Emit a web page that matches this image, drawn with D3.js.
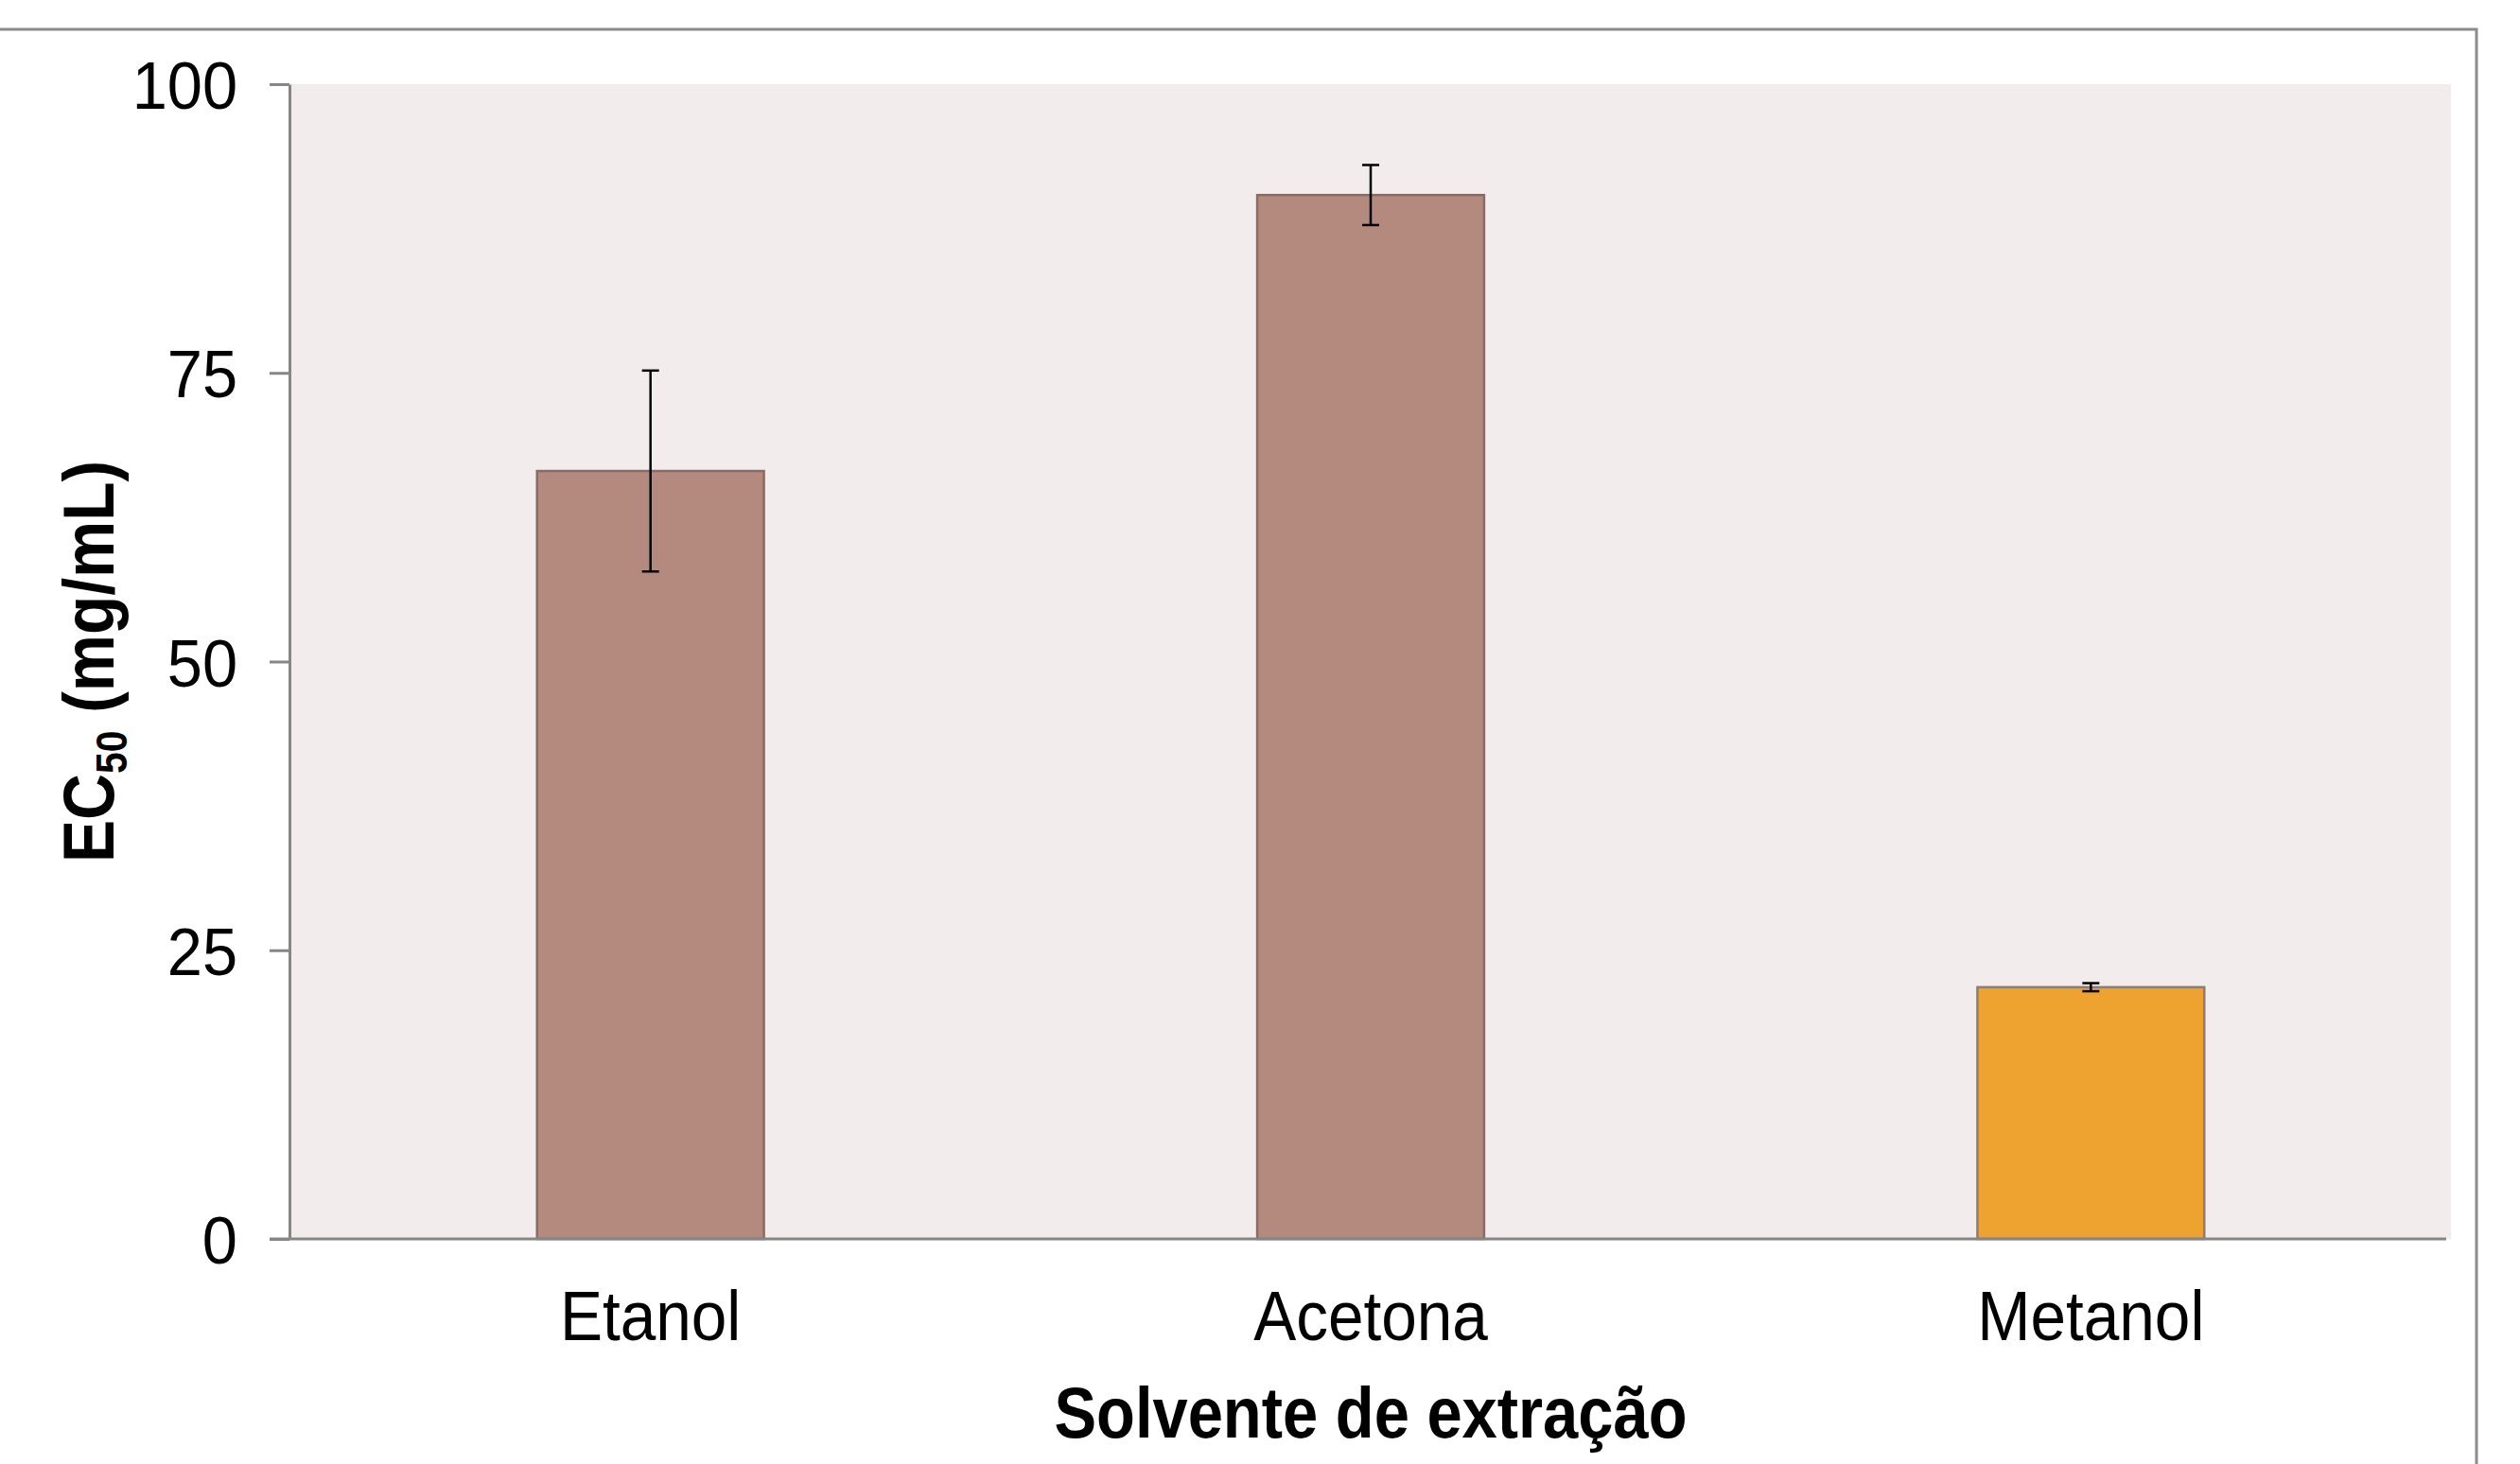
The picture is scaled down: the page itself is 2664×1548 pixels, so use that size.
<!DOCTYPE html>
<html>
<head>
<meta charset="utf-8">
<script src="https://cdn.jsdelivr.net/npm/d3@7"></script>
<style>
  html, body { margin: 0; padding: 0; background: #fff; }
  svg { display: block; }
  text { font-family: "Liberation Sans", Arial, sans-serif; fill: #000; }
</style>
</head>
<body>
<svg id="chart" width="2664" height="1548"></svg>
<script>
// data
let solvents = ["Etanol", "Acetona", "Metanol"];
let ec50 = [66.5, 90.4, 21.8];
let ec50_err = [8.7, 2.6, 0.35];
let bar_colors = ["#b58a7e", "#b58a7e", "#eea230"];
let bar_strokes = ["#8a6a63", "#8a6a63", "#8c7c72"];
let y_ticks = [0, 25, 50, 75, 100];

let margin = ({top: 89, right: 73, bottom: 238, left: 307});
let width = 2664, height = 1548;

let svg = d3.select("#chart");

// squeeze text a bit, the original labels are narrow
function squeeze(sel, k) {
    sel.each(function() {
        let len = this.getComputedTextLength();
        d3.select(this).attr("textLength", len * k).attr("lengthAdjust", "spacingAndGlyphs");
    });
}

// outer chart frame (left/bottom edge off canvas)
svg.append("rect")
    .attr("x", -20).attr("y", 31)
    .attr("width", 2618 + 20).attr("height", height)
    .attr("fill", "none")
    .attr("stroke", "#8c8c8c")
    .attr("stroke-width", 3);

let x = d3.scaleBand()
    .domain(solvents)
    .range([margin.left, width - margin.right])
    .padding(0);
let y = d3.scaleLinear()
    .domain([0, 100])
    .range([height - margin.bottom, margin.top]);

let bar_w = x.bandwidth() * 0.315;

// plot background
svg.append("rect")
    .attr("x", margin.left).attr("y", y(100))
    .attr("width", width - margin.right - margin.left)
    .attr("height", y(0) - y(100))
    .attr("fill", "#f2ecec");

let data = solvents.map((s, i) => ({name: s, value: ec50[i], err: ec50_err[i], fill: bar_colors[i], stroke: bar_strokes[i]}));

svg.append("g")
    .selectAll("rect")
    .data(data)
    .join("rect")
    .attr("x", d => x(d.name) + x.bandwidth() / 2 - bar_w / 2)
    .attr("y", d => y(d.value))
    .attr("width", bar_w)
    .attr("height", d => y(0) - y(d.value))
    .attr("fill", d => d.fill)
    .attr("stroke", d => d.stroke)
    .attr("stroke-width", 2.5);

// error bars
let eb = svg.append("g").attr("stroke", "#000").attr("stroke-width", 2.5);
let cap = 9;
data.forEach(d => {
    let cx = x(d.name) + x.bandwidth() / 2;
    eb.append("line")
        .attr("x1", cx).attr("x2", cx)
        .attr("y1", y(d.value + d.err)).attr("y2", y(d.value - d.err));
    [d.value + d.err, d.value - d.err].forEach(v => {
        eb.append("line")
            .attr("x1", cx - cap).attr("x2", cx + cap)
            .attr("y1", y(v)).attr("y2", y(v));
    });
});

// y axis
let y_axis = g => g
    .attr("transform", `translate(${margin.left - 1}, 0)`)
    .call(d3.axisLeft(y).tickValues(y_ticks).tickSize(21).tickSizeOuter(0).tickPadding(34))
    .call(g => g.selectAll("path, line").attr("stroke", "#868686").attr("stroke-width", 3))
    .call(g => g.selectAll("text")
        .attr("font-size", 71)
        .attr("font-family", "'Liberation Sans', Arial, sans-serif")
        .attr("fill", "#000")
        .attr("dy", "0.36em"));
svg.append("g").call(y_axis);
squeeze(svg.selectAll("g.tick text"), 0.94);

// x axis
let x_axis = g => g
    .attr("transform", `translate(0, ${y(0)})`)
    .call(d3.axisBottom(x).tickSize(0).tickPadding(54))
    .call(g => g.select(".domain").attr("d", `M${margin.left - 22},0H${width - margin.right - 5}`)
        .attr("stroke", "#868686").attr("stroke-width", 3))
    .call(g => g.selectAll("text")
        .attr("font-size", 75)
        .attr("font-family", "'Liberation Sans', Arial, sans-serif")
        .attr("fill", "#000"));
let gx = svg.append("g").call(x_axis);
squeeze(gx.selectAll("text"), 0.9);

// axis titles
let xt = svg.append("text")
    .attr("x", (margin.left + width - margin.right) / 2)
    .attr("y", 1520)
    .attr("text-anchor", "middle")
    .attr("font-size", 76)
    .attr("font-weight", "bold")
    .text("Solvente de extração");
squeeze(xt, 0.88);

let yt = svg.append("text")
    .attr("transform", `translate(120, ${(y(0) + y(100)) / 2}) rotate(-90)`)
    .attr("text-anchor", "middle")
    .attr("font-size", 76)
    .attr("font-weight", "bold");
yt.append("tspan").text("EC");
yt.append("tspan").attr("font-size", 46).attr("dy", 14).text("50");
yt.append("tspan").attr("dy", -14).text(" (mg/mL)");
squeeze(yt, 0.89);
</script>
</body>
</html>
